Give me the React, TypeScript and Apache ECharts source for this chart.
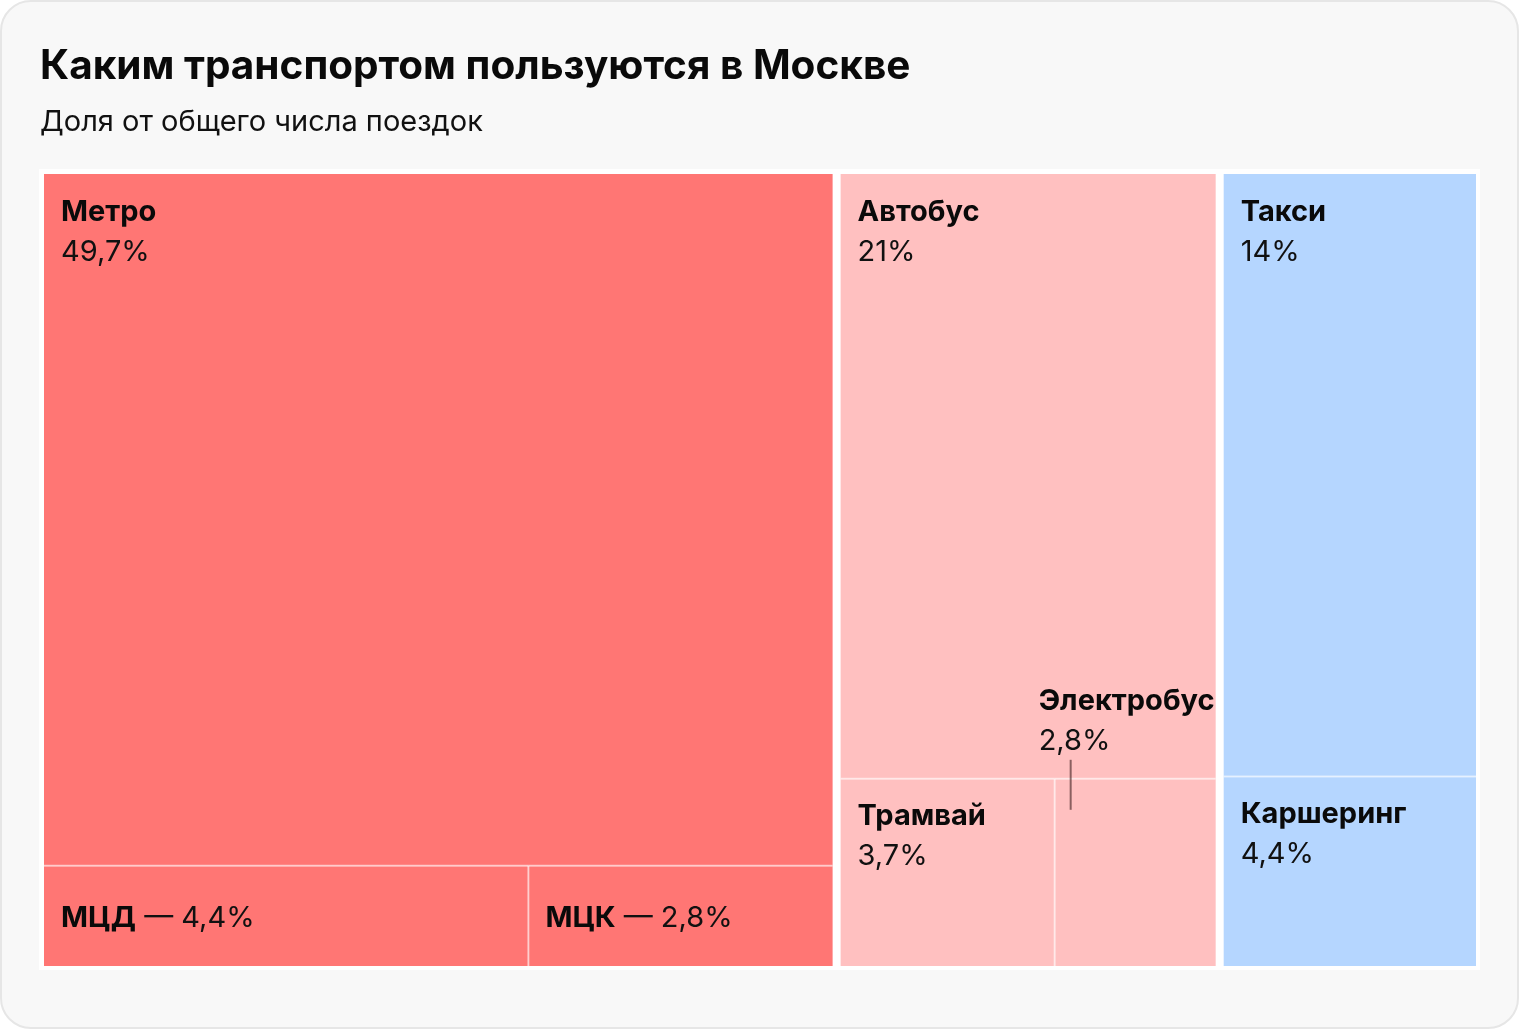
import React, { useEffect, useRef } from "react";
import * as echarts from "echarts";

// ---- Data ----
const groupNames = ["Рельсовый", "Наземный", "Автомобиль"];
const groupColors = ["#FF7674", "#FFC0C0", "#B5D6FF"];
const itemNames = ["Метро", "МЦД", "МЦК", "Автобус", "Трамвай", "Электробус", "Такси", "Каршеринг"];
const itemValues = [49.7, 4.4, 2.8, 21, 3.7, 2.8, 14, 4.4];
const itemGroup = [0, 0, 0, 1, 1, 1, 2, 2];
const itemIsMain = [true, false, false, true, false, false, true, false];
const itemLabels = ["49,7%", "4,4%", "2,8%", "21%", "3,7%", "2,8%", "14%", "4,4%"];
// label style: "block" = name over value, "inline" = name — value, "callout" = above with leader line
const itemLabelMode = ["block", "inline", "inline", "block", "block", "callout", "block", "block"];

const TITLE = "Каким транспортом пользуются в Москве";
const SUBTITLE = "Доля от общего числа поездок";

// ---- Layout (slice-and-dice in value space) ----
function buildCells() {
  const total = itemValues.reduce((a, b) => a + b, 0);
  const cells: number[][] = [];
  let gx = 0;
  groupNames.forEach((_, g) => {
    const idx = itemValues.map((_, i) => i).filter((i) => itemGroup[i] === g);
    const gsum = idx.reduce((a, i) => a + itemValues[i], 0);
    const mainIdx = idx.filter((i) => itemIsMain[i]);
    const rest = idx.filter((i) => !itemIsMain[i]);
    const mainSum = mainIdx.reduce((a, i) => a + itemValues[i], 0);
    const split = mainSum / gsum;
    mainIdx.forEach((i) => {
      cells.push([gx, gx + gsum, 0, split, i, 1, g, 1, gx, gx + gsum]);
    });
    const restSum = rest.reduce((a, i) => a + itemValues[i], 0);
    let bx = gx;
    rest.forEach((i, k) => {
      const w = (itemValues[i] / restSum) * gsum;
      cells.push([bx, bx + w, split, 1, i, 0, g, k === 0 ? 1 : 0, gx, gx + gsum]);
      bx += w;
    });
    gx += gsum;
  });
  return { cells, total };
}

export default function App() {
  const ref = useRef<HTMLDivElement>(null);
  useEffect(() => {
    if (!ref.current) return;
    const chart = echarts.init(ref.current, undefined, { renderer: "svg" });
    const { cells, total } = buildCells();
    const groupCount = groupNames.length;
    const FONT = "Inter, 'Noto Sans', sans-serif";
    const GAP = 4;
    const LABEL_SIZE = 29;

    const option: any = {
      animation: false,
      backgroundColor: "transparent",
      title: {
        text: TITLE,
        subtext: SUBTITLE,
        left: 40,
        top: 40,
        padding: 0,
        itemGap: 14,
        textStyle: { fontFamily: FONT, fontSize: 40.5, fontWeight: 700, color: "#0a0a0a", lineHeight: 48 },
        subtextStyle: { fontFamily: FONT, fontSize: 29, fontWeight: 400, color: "#111", lineHeight: 36 },
      },
      graphic: [
        {
          type: "rect",
          z: -20,
          shape: { x: 1, y: 1, width: 1517, height: 1027, r: 30 },
          style: { fill: "#F8F8F8", stroke: "#E6E6E6", lineWidth: 2 },
        },
        {
          type: "rect",
          z: -10,
          shape: { x: 39, y: 169, width: 1441, height: 801 },
          style: { fill: "#FFFFFF" },
        },
      ],
      grid: { left: 44, right: 44, top: 174, bottom: 64 },
      xAxis: { type: "value", min: 0, max: total, show: false },
      yAxis: { type: "value", min: 0, max: 1, inverse: true, show: false },
      series: [
        {
          type: "custom",
          data: cells,
          encode: { x: [0, 1], y: [2, 3] },
          renderItem: (params: any, api: any) => {
            const x0 = api.value(0), x1 = api.value(1), y0 = api.value(2), y1 = api.value(3);
            const i = api.value(4);
            const g = api.value(6);
            const firstInRow = api.value(7) === 1;
            const gEnd = api.value(9);
            const p0 = api.coord([x0, y0]);
            const p1 = api.coord([x1, y1]);
            const leftInset = firstInRow && g > 0 ? GAP : 0;
            const isGroupEnd = Math.abs(x1 - gEnd) < 1e-6;
            const rightInset = isGroupEnd && g < groupCount - 1 ? GAP : 0;
            const x = p0[0] + leftInset;
            const y = p0[1];
            const w = p1[0] - p0[0] - leftInset - rightInset;
            const h = p1[1] - p0[1];
            const children: any[] = [
              {
                type: "rect",
                shape: { x, y, width: w, height: h },
                style: { fill: groupColors[g] },
              },
            ];
            const lineStyle = { stroke: "rgba(255,255,255,0.55)", lineWidth: 2 };
            if (y0 > 0) {
              children.push({ type: "line", shape: { x1: x, y1: y, x2: x + w, y2: y }, style: lineStyle });
            }
            if (!firstInRow) {
              children.push({ type: "line", shape: { x1: x, y1: y, x2: x, y2: y + h }, style: lineStyle });
            }
            const mode = itemLabelMode[i];
            const nameStyle = { fontFamily: FONT, fontSize: LABEL_SIZE, fontWeight: 700, fill: "#0a0a0a" };
            const valStyle = { fontFamily: FONT, fontSize: LABEL_SIZE, fontWeight: 400, fill: "#111" };
            if (mode === "block") {
              children.push({
                type: "text",
                style: { ...nameStyle, text: itemNames[i], x: x + 17, y: y + 36, verticalAlign: "middle", align: "left" },
              });
              children.push({
                type: "text",
                style: { ...valStyle, text: itemLabels[i], x: x + 17, y: y + 76, verticalAlign: "middle", align: "left" },
              });
            } else if (mode === "inline") {
              children.push({
                type: "text",
                style: {
                  text: `{b|${itemNames[i]}} — ${itemLabels[i]}`,
                  x: x + 17,
                  y: y + h / 2 + 1,
                  verticalAlign: "middle",
                  align: "left",
                  fontFamily: FONT,
                  fontSize: LABEL_SIZE,
                  fill: "#111",
                  rich: { b: { fontFamily: FONT, fontSize: LABEL_SIZE, fontWeight: 700, fill: "#0a0a0a" } },
                },
              });
            } else {
              children.push({
                type: "text",
                style: { ...nameStyle, text: itemNames[i], x: x - 16, y: y - 79, verticalAlign: "middle", align: "left" },
              });
              children.push({
                type: "text",
                style: { ...valStyle, text: itemLabels[i], x: x - 16, y: y - 39, verticalAlign: "middle", align: "left" },
              });
              children.push({
                type: "line",
                shape: { x1: x + 16, y1: y - 19, x2: x + 16, y2: y + 31 },
                style: { stroke: "rgba(60,30,30,0.6)", lineWidth: 2 },
              });
            }
            return { type: "group", children };
          },
        },
      ],
    };
    chart.setOption(option);
    return () => chart.dispose();
  }, []);
  return (
    <div
      ref={ref}
      style={{ position: "fixed", left: 0, top: 0, width: 1520, height: 1030 }}
    />
  );
}
